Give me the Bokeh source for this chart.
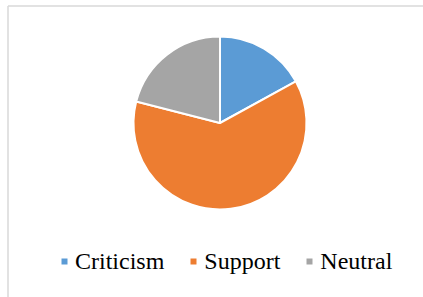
import math
from bokeh.plotting import figure
from bokeh.models import ColumnDataSource, Range1d
from bokeh.embed import file_html
from bokeh.resources import INLINE

# ---- data ----
categories = ["Criticism", "Support", "Neutral"]
values = [17, 62, 21]
colors = ["#5B9BD5", "#ED7D31", "#A5A5A5"]

# ---- geometry (page pixels) ----
W, H = 423, 297
cx_page, cy_page, radius = 219.5, 122.5, 86.5

total = float(sum(values))
starts, ends = [], []
cum = 0.0
for v in values:
    starts.append(math.pi / 2 - 2 * math.pi * cum / total)
    cum += v
    ends.append(math.pi / 2 - 2 * math.pi * cum / total)

src = ColumnDataSource(dict(category=categories, value=values, color=colors,
                            start=starts, end=ends))

p = figure(width=W, height=H, output_backend="svg", toolbar_location=None,
           x_range=Range1d(0, W), y_range=Range1d(0, H),
           min_border=0, min_border_left=0, min_border_right=0,
           min_border_top=0, min_border_bottom=0)
p.axis.visible = False
p.grid.visible = False
p.outline_line_color = None
p.background_fill_color = "white"
p.border_fill_color = "white"

cx, cy = cx_page, H - cy_page

# chart-area border (left and top edges)
bx, by = 7.5, H - 5.5
p.segment(x0=[bx, bx], y0=[0, by], x1=[bx, W], y1=[by, by],
          line_color="#D9D9D9", line_width=1.5)

p.wedge(x=cx, y=cy, radius=radius, start_angle="start", end_angle="end",
        direction="clock", fill_color="color", line_color="white",
        line_width=2, source=src, legend_field="category")

lg = p.legend[0]
lg.orientation = "horizontal"
lg.location = (59, 22.5)
lg.padding = 0
lg.margin = 0
lg.spacing = 24
lg.border_line_color = None
lg.background_fill_alpha = 0
lg.glyph_width = 10
lg.glyph_height = 10
lg.label_standoff = 6
lg.label_height = 24
lg.label_text_font = "Liberation Serif"
lg.label_text_font_size = "24px"
lg.label_text_color = "#000000"

open("out.html", "w").write(file_html(p, INLINE))
